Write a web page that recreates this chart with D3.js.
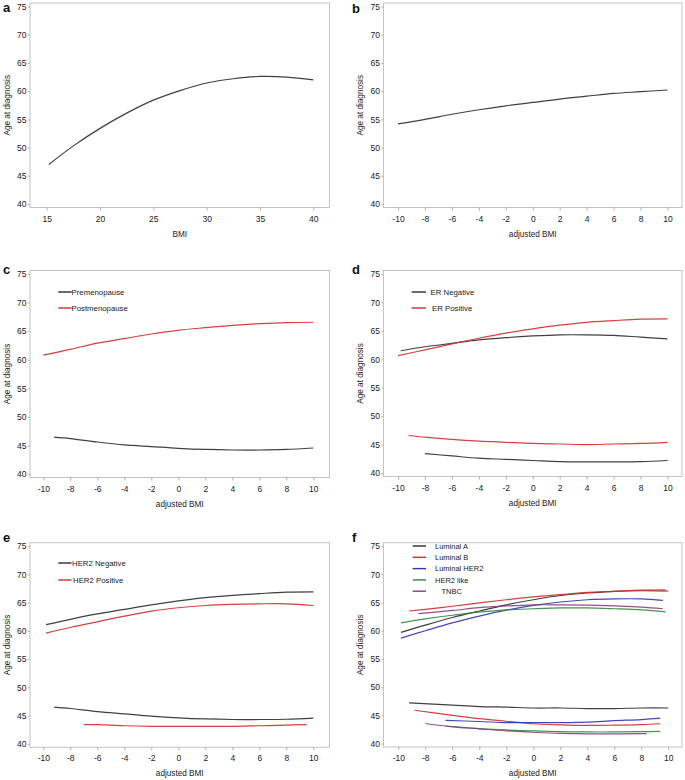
<!DOCTYPE html>
<html><head><meta charset="utf-8">
<script src="https://cdn.jsdelivr.net/npm/d3@7"></script>
<style>
body{margin:0;background:#fff;}
svg{display:block;font-family:"Liberation Sans",Arial,sans-serif;}
</style></head>
<body>
<svg id="chart" width="685" height="780"></svg>
<script>
// ---------- data ----------
const yTicks = [40, 45, 50, 55, 60, 65, 70, 75];
const bmiTicks = [15, 20, 25, 30, 35, 40];
const adjTicks = [-10, -8, -6, -4, -2, 0, 2, 4, 6, 8, 10];
const colors = { black: "#2b2b2b", red: "#d42a2a", blue: "#3232b4", green: "#2f8a3c", purple: "#8a3a7e" };

// panel a
const aX = [15.2, 17.5, 20, 22.5, 25, 27.5, 30, 32.5, 35, 37.5, 40];
const aY = [47.0, 50.3, 53.4, 56.1, 58.4, 60.1, 61.45, 62.2, 62.6, 62.5, 62.0];
// panel b
const bX = [-10, -8, -6, -4, -2, 0, 2, 4, 6, 8, 10];
const bY = [54.2, 55.0, 55.9, 56.7, 57.4, 58.0, 58.6, 59.1, 59.6, 59.9, 60.2];
// panel c
const cPreX = [-9.2, -8, -6, -4, -2, 0, 2, 4, 6, 8, 10];
const cPreY = [46.45, 46.2, 45.6, 45.1, 44.8, 44.5, 44.3, 44.2, 44.2, 44.3, 44.55];
const cPostX = [-10, -8, -6, -4, -2, 0, 2, 4, 6, 8, 10];
const cPostY = [60.8, 61.8, 62.9, 63.7, 64.5, 65.15, 65.6, 66.0, 66.3, 66.5, 66.56];
// panel d
const dNegUpX = [-9.8, -8, -6, -4, -2, 0, 2, 4, 6, 8, 10];
const dNegUpY = [61.5, 62.2, 62.8, 63.4, 63.8, 64.1, 64.3, 64.3, 64.2, 63.9, 63.6];
const dPosUpX = [-10, -8, -6, -4, -2, 0, 2, 4, 6, 8, 10];
const dPosUpY = [60.65, 61.65, 62.7, 63.7, 64.6, 65.35, 66.0, 66.5, 66.8, 67.05, 67.1];
const dPosLoX = [-9.2, -8, -6, -4, -2, 0, 2, 4, 6, 8, 10];
const dPosLoY = [46.6, 46.3, 45.9, 45.6, 45.4, 45.2, 45.1, 45.0, 45.1, 45.2, 45.4];
const dNegLoX = [-8, -6, -4, -2, 0, 2, 4, 6, 8, 10];
const dNegLoY = [43.4, 43.0, 42.6, 42.4, 42.2, 42.0, 41.95, 41.95, 42.0, 42.2];
// panel e
const eNegUpX = [-9.8, -8, -6, -4, -2, 0, 2, 4, 6, 8, 10];
const eNegUpY = [61.1, 62.05, 63.0, 63.8, 64.6, 65.3, 65.9, 66.3, 66.6, 66.85, 66.9];
const ePosUpX = [-9.8, -8, -6, -4, -2, 0, 2, 4, 6, 8, 10];
const ePosUpY = [59.6, 60.6, 61.6, 62.6, 63.5, 64.1, 64.5, 64.7, 64.8, 64.8, 64.5];
const eNegLoX = [-9.2, -8, -6, -4, -2, 0, 2, 4, 6, 8, 10];
const eNegLoY = [46.5, 46.25, 45.7, 45.3, 44.9, 44.6, 44.4, 44.3, 44.3, 44.35, 44.55];
const ePosLoX = [-7, -6, -4, -2, 0, 2, 4, 6, 8, 9.5];
const ePosLoY = [43.4, 43.4, 43.2, 43.1, 43.1, 43.1, 43.1, 43.2, 43.3, 43.4];
// panel f (upper)
const fLumAUpX = [-9.8, -8, -6, -4, -2, 0, 2, 4, 6, 8, 10];
const fLumAUpY = [59.7, 61.0, 62.35, 63.5, 64.6, 65.5, 66.25, 66.7, 67.0, 67.1, 67.05];
const fLumBUpX = [-9.2, -8, -6, -4, -2, 0, 2, 4, 6, 8, 9.8];
const fLumBUpY = [63.5, 63.8, 64.35, 64.95, 65.5, 66.0, 66.4, 66.8, 67.0, 67.2, 67.25];
const fLumHUpX = [-9.8, -8, -6, -4, -2, 0, 2, 4, 6, 8, 9.6];
const fLumHUpY = [58.7, 60.0, 61.4, 62.6, 63.65, 64.5, 65.1, 65.5, 65.65, 65.65, 65.4];
const fHerUpX = [-9.8, -8, -6, -4, -2, 0, 2, 4, 6, 8, 9.8];
const fHerUpY = [61.4, 62.1, 62.75, 63.3, 63.7, 63.9, 64.05, 64.05, 63.9, 63.7, 63.35];
const fTnUpX = [-8.5, -6, -4, -2, 0, 2, 4, 6, 8, 9.6];
const fTnUpY = [63.05, 63.6, 64.1, 64.4, 64.6, 64.6, 64.55, 64.4, 64.2, 63.9];
// panel f (lower)
const fLumALoX = [-9.2, -6, -4, -2, 0, 2, 4, 6, 8, 10];
const fLumALoY = [47.2, 46.8, 46.55, 46.45, 46.3, 46.3, 46.2, 46.2, 46.3, 46.3];
const fLumBLoX = [-8.8, -6, -4, -2, 0, 2, 4, 6, 8, 9.4];
const fLumBLoY = [45.9, 45.0, 44.4, 43.95, 43.5, 43.3, 43.2, 43.25, 43.35, 43.5];
const fLumHLoX = [-6.5, -4, -2, 0, 2, 4, 6, 8, 9.4];
const fLumHLoY = [44.1, 43.9, 43.7, 43.7, 43.7, 43.8, 44.05, 44.25, 44.5];
const fHerLoX = [-6.5, -4, -2, 0, 2, 4, 6, 8, 9.4];
const fHerLoY = [43.1, 42.65, 42.4, 42.25, 42.1, 42.05, 42.05, 42.1, 42.15];
const fTnLoX = [-8, -6, -4, -2, 0, 2, 4, 6, 8, 8.4];
const fTnLoY = [43.55, 42.95, 42.6, 42.25, 42.0, 41.8, 41.7, 41.7, 41.75, 41.75];

// ---------- drawing ----------
const svg = d3.select("#chart");
const zip = (xs, ys) => xs.map((x, i) => [x, ys[i]]);

function panel(cfg) {
  const g = svg.append("g");
  const { left, right, top, bottom } = cfg.frame;
  const x = d3.scaleLinear().domain(cfg.xDomain).range(cfg.xRange);
  const y = d3.scaleLinear().domain([40, 75]).range([bottom - 3.5, top + 3.5]);

  g.append("rect").attr("x", left).attr("y", top).attr("width", right - left).attr("height", bottom - top)
    .attr("fill", "none").attr("stroke", "#c4c4c4").attr("stroke-width", 1);

  const ax = g.append("g").attr("transform", `translate(0,${bottom})`)
    .call(d3.axisBottom(x).tickValues(cfg.xTicks).tickFormat(d => String(d))
      .tickSize(3).tickPadding(5).tickSizeOuter(0));
  const ay = g.append("g").attr("transform", `translate(${left},0)`)
    .call(d3.axisLeft(y).tickValues(yTicks).tickFormat(d => String(d))
      .tickSize(2).tickPadding(1.5).tickSizeOuter(0));
  [ax, ay].forEach(a => {
    a.select(".domain").remove();
    a.selectAll("line").attr("stroke", "#b0b0b0");
    a.selectAll("text").attr("fill", "#222").style("font-size", "8.5px");
  });

  // titles
  g.append("text").attr("x", (left + right) / 2).attr("y", bottom + 29).attr("text-anchor", "middle")
    .style("font-size", "8.2px").attr("fill", "#222").text(cfg.xTitle);
  g.append("text").attr("transform", `translate(${cfg.yTitleX},${(top + bottom) / 2}) rotate(-90)`)
    .attr("text-anchor", "middle").attr("dy", "0.35em").style("font-size", "8.2px").attr("fill", "#222")
    .text("Age at diagnosis");
  g.append("text").attr("x", cfg.letter[0]).attr("y", cfg.letter[1]).style("font-size", "13px")
    .style("font-weight", "bold").attr("fill", "#111").text(cfg.letterText);

  const line = d3.line().x(d => x(d[0])).y(d => y(d[1])).curve(d3.curveCatmullRom.alpha(0.5));
  cfg.series.forEach(s => {
    g.append("path").datum(zip(s.x, s.y)).attr("d", line).attr("fill", "none")
      .attr("stroke", colors[s.c]).attr("stroke-width", 1.2).attr("stroke-opacity", 0.9);
  });

  if (cfg.legend) {
    const L = cfg.legend;
    L.items.forEach((it, i) => {
      const yy = L.y + i * L.dy;
      g.append("line").attr("x1", L.x1).attr("x2", L.x2).attr("y1", yy).attr("y2", yy)
        .attr("stroke", colors[it.c]).attr("stroke-width", 1.4);
      g.append("text").attr("x", L.tx + (it.indent || 0)).attr("y", yy).attr("dy", "0.35em")
        .style("font-size", L.fs + "px").attr("fill", "#222").text(it.label);
    });
  }
}

const leftCol = { left: 30, right: 329.5 };
const rightCol = { left: 383.5, right: 682 };
const adjLeftRange = [43.3, 313.3];
const adjRightRange = [398, 667.5];

panel({
  frame: { ...leftCol, top: 3, bottom: 207.5 }, xDomain: [15, 40], xRange: [46.7, 313.3], xTicks: bmiTicks,
  xTitle: "BMI", yTitleX: 7, letter: [3, 12], letterText: "a",
  series: [{ x: aX, y: aY, c: "black" }]
});
panel({
  frame: { ...rightCol, top: 3, bottom: 207.5 }, xDomain: [-10, 10], xRange: adjRightRange, xTicks: adjTicks,
  xTitle: "adjusted BMI", yTitleX: 360, letter: [352, 13], letterText: "b",
  series: [{ x: bX, y: bY, c: "black" }]
});
panel({
  frame: { ...leftCol, top: 270.5, bottom: 477.5 }, xDomain: [-10, 10], xRange: adjLeftRange, xTicks: adjTicks,
  xTitle: "adjusted BMI", yTitleX: 7, letter: [3, 273.5], letterText: "c",
  series: [{ x: cPreX, y: cPreY, c: "black" }, { x: cPostX, y: cPostY, c: "red" }],
  legend: { x1: 58.3, x2: 71.7, tx: 71.5, y: 292, dy: 16, fs: 7.8,
    items: [{ label: "Premenopause", c: "black" }, { label: "Postmenopause", c: "red" }] }
});
panel({
  frame: { ...rightCol, top: 270.5, bottom: 476.5 }, xDomain: [-10, 10], xRange: adjRightRange, xTicks: adjTicks,
  xTitle: "adjusted BMI", yTitleX: 360, letter: [352, 273.5], letterText: "d",
  series: [{ x: dNegUpX, y: dNegUpY, c: "black" }, { x: dPosUpX, y: dPosUpY, c: "red" },
           { x: dPosLoX, y: dPosLoY, c: "red" }, { x: dNegLoX, y: dNegLoY, c: "black" }],
  legend: { x1: 411.7, x2: 426, tx: 430.5, y: 292, dy: 16, fs: 7.8,
    items: [{ label: "ER Negative", c: "black" }, { label: "ER Positive", c: "red", indent: 1.5 }] }
});
panel({
  frame: { ...leftCol, top: 542.7, bottom: 747.3 }, xDomain: [-10, 10], xRange: adjLeftRange, xTicks: adjTicks,
  xTitle: "adjusted BMI", yTitleX: 7, letter: [3, 542], letterText: "e",
  series: [{ x: eNegUpX, y: eNegUpY, c: "black" }, { x: ePosUpX, y: ePosUpY, c: "red" },
           { x: eNegLoX, y: eNegLoY, c: "black" }, { x: ePosLoX, y: ePosLoY, c: "red" }],
  legend: { x1: 58.3, x2: 71.5, tx: 72, y: 563, dy: 17, fs: 7.8,
    items: [{ label: "HER2 Negative", c: "black" }, { label: "HER2 Positive", c: "red", indent: 1 }] }
});
panel({
  frame: { ...rightCol, top: 542.7, bottom: 747 }, xDomain: [-10, 10], xRange: [398.3, 668.3], xTicks: adjTicks,
  xTitle: "adjusted BMI", yTitleX: 360, letter: [352, 542], letterText: "f",
  series: [
    { x: fLumAUpX, y: fLumAUpY, c: "black" }, { x: fLumBUpX, y: fLumBUpY, c: "red" },
    { x: fLumHUpX, y: fLumHUpY, c: "blue" }, { x: fHerUpX, y: fHerUpY, c: "green" },
    { x: fTnUpX, y: fTnUpY, c: "purple" },
    { x: fLumALoX, y: fLumALoY, c: "black" }, { x: fLumBLoX, y: fLumBLoY, c: "red" },
    { x: fLumHLoX, y: fLumHLoY, c: "blue" }, { x: fHerLoX, y: fHerLoY, c: "green" },
    { x: fTnLoX, y: fTnLoY, c: "purple" }],
  legend: { x1: 412.7, x2: 426, tx: 435, y: 546, dy: 11.3, fs: 7.5,
    items: [{ label: "Luminal A", c: "black" }, { label: "Luminal B", c: "red" },
            { label: "Luminal HER2", c: "blue" }, { label: "HER2 like", c: "green" },
            { label: "TNBC", c: "purple", indent: 6.5 }] }
});
</script>
</body></html>
